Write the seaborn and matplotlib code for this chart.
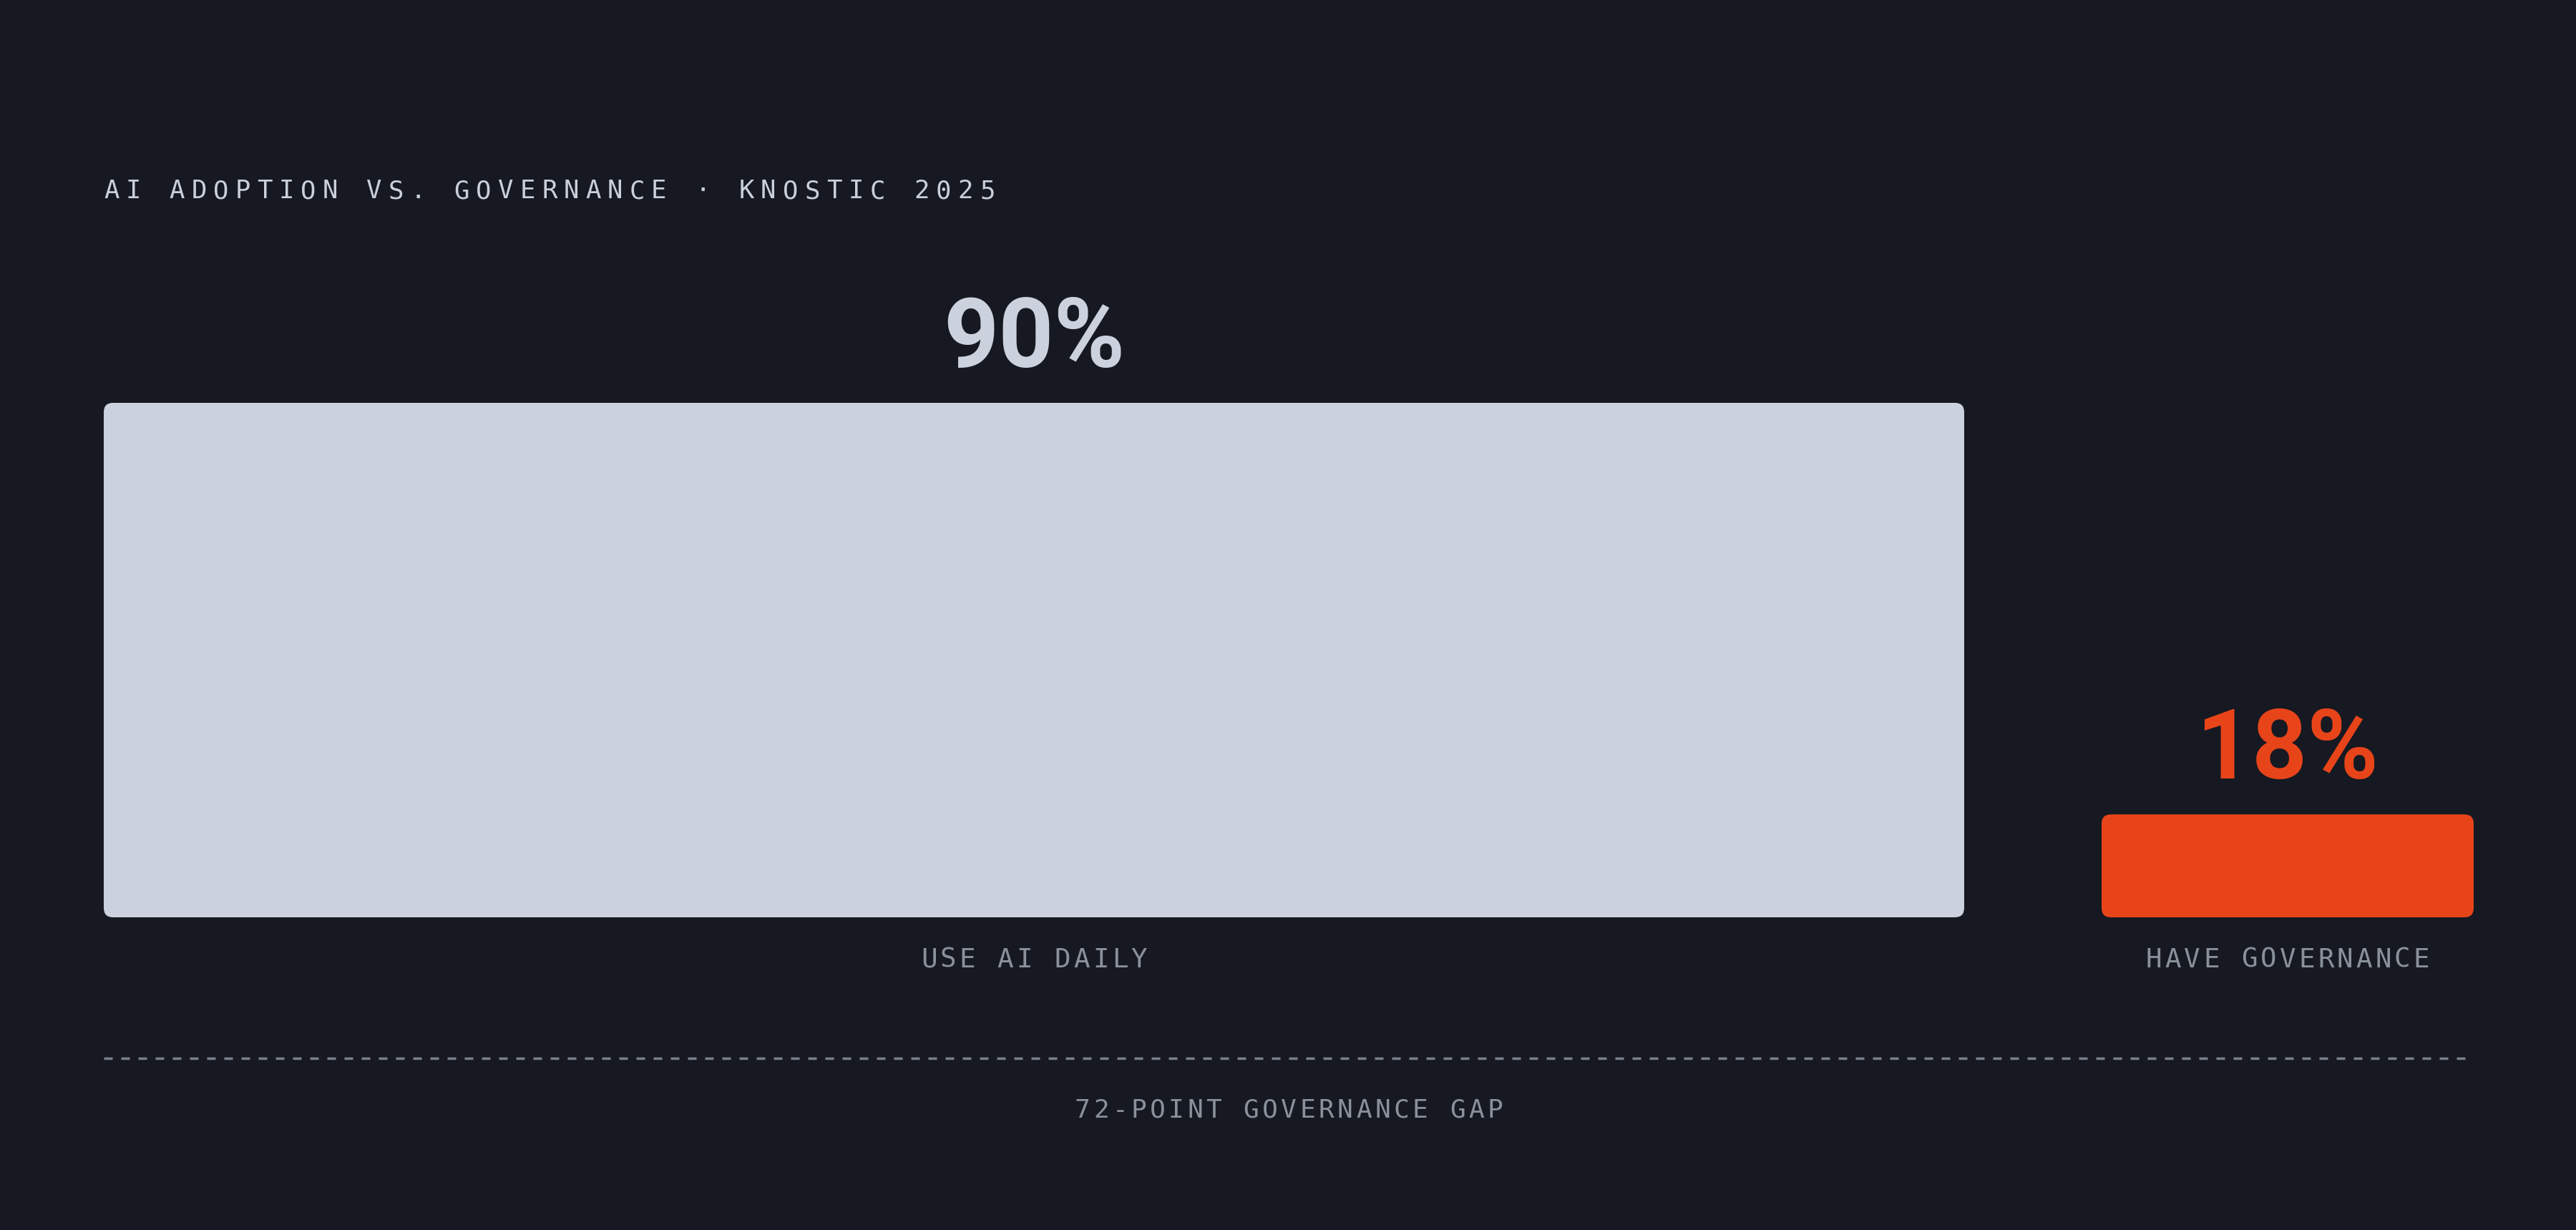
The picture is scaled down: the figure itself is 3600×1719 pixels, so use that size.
import numpy as np
import pandas as pd
import matplotlib.pyplot as plt
from matplotlib import transforms
from matplotlib.patches import FancyBboxPatch
import seaborn as sns

# data
labels = ["USE AI DAILY", "HAVE GOVERNANCE"]
values = [90, 18]
value_text = ["90%", "18%"]
title = "AI ADOPTION VS. GOVERNANCE · KNOSTIC 2025"
gap_text = f"{values[0] - values[1]}-POINT GOVERNANCE GAP"

# style
BG = "#161921"
bar_colors = ["#CBD2DD", "#E8441A"]
TITLE_C = "#C9D0DB"
MUTED = "#8A919B"
LINE_C = "#7A818B"

W, H, DPI = 36, 17.19, 100
LEFT_PX = 145          # left edge of first bar
BASE_PX = 1282         # bar baseline, from top
KX = 2600 / 90         # px per unit, width
KY = 719 / 90          # px per unit, height
GAP = 192 / KX         # gap between bars in units
R = 13 / KX            # corner radius

sns.set_theme(style="white")
plt.rcParams["font.family"] = ["DejaVu Sans"]
plt.rcParams["lines.scale_dashes"] = False

fig = plt.figure(figsize=(W, H), dpi=DPI, facecolor=BG)
ax = fig.add_axes([0, 0, 1, 1])
ax.set_facecolor(BG)

df = pd.DataFrame({"label": labels, "value": values})
sns.barplot(data=df, x="label", y="value", hue="label", hue_order=labels,
            order=labels, palette=bar_colors, saturation=1, legend=False,
            errorbar=None, ax=ax)

# bar widths proportional to value, rounded corners
lefts = np.cumsum([0] + values[:-1]) + GAP * np.arange(len(values))
centers = lefts + np.array(values) / 2
for p, left, v in zip(list(ax.patches), lefts, values):
    h = p.get_height()
    fc = p.get_facecolor()
    p.remove()
    ax.add_patch(FancyBboxPatch((left, 0), v, h,
                                boxstyle=f"round,pad=0,rounding_size={R}",
                                mutation_aspect=KX / KY, fc=fc, ec="none"))

ax.set_xlim(-LEFT_PX / KX, (W * DPI - LEFT_PX) / KX)
ax.set_ylim(-(H * DPI - BASE_PX) / KY, BASE_PX / KY)
ax.axis("off")


def spaced(x, y, s, size, adv, ha="center", **kw):
    # letter-spaced monospace text, adv = px per character
    char_w = size * DPI / 72 * 0.602
    total = (len(s) - 1) * adv + char_w
    start = 0 if ha == "left" else -total / 2
    for i, ch in enumerate(s):
        tr = transforms.offset_copy(ax.transData, fig=fig, x=start + i * adv,
                                    y=0, units="dots")
        ax.text(x, y, ch, transform=tr, ha="left", va="baseline",
                fontsize=size, family="DejaVu Sans Mono", **kw)


spaced(0, (BASE_PX - 277) / KY, title, 25.7, 30.6, ha="left", color=TITLE_C)

for c, v, t, lab, col in zip(centers, values, value_text, labels, bar_colors):
    ax.text(c, v + 50 / KY, t, ha="center", va="baseline", fontsize=97,
            fontweight="bold", family=["Roboto", "DejaVu Sans"], color=col)
    spaced(c, -70 / KY, lab, 27.0, 26.7, color=MUTED)

total = lefts[-1] + values[-1]
ax.plot([0, total], [-197 / KY] * 2, color=LINE_C, lw=2.5,
        linestyle=(0, (8.64, 8.64)), solid_capstyle="butt", dash_capstyle="butt")
spaced(total / 2, -280 / KY, gap_text, 26.0, 26.2, color=MUTED)

plt.savefig("out.png", dpi=DPI, facecolor=BG)
